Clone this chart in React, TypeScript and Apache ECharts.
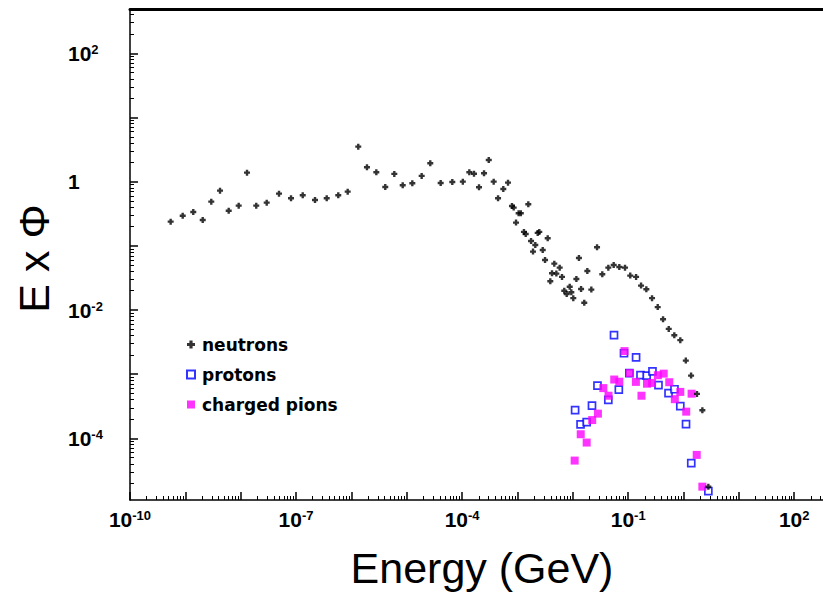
import React, { useEffect, useRef } from 'react';
import * as echarts from 'echarts';

// ---- Data (energy in GeV, E x Phi) ----
const neutronEnergy = [
  5.43e-10, 8.96e-10, 1.39e-9, 2.06e-9, 2.94e-9, 4.23e-9, 6.07e-9, 9.2e-9,
  1.3e-8, 1.91e-8, 2.95e-8, 4.92e-8, 8.11e-8, 1.32e-7, 2.2e-7, 3.58e-7,
  5.79e-7, 8.57e-7, 1.33e-6, 1.91e-6, 2.82e-6, 4.09e-6, 5.96e-6, 8.45e-6,
  1.26e-5, 1.86e-5, 2.66e-5, 4.1e-5, 6.65e-5, 1.03e-4, 1.35e-4, 1.64e-4,
  2.02e-4, 2.49e-4, 3.03e-4, 3.72e-4, 4.46e-4, 5.55e-4, 6.75e-4, 7.96e-4,
  8.55e-4, 9.42e-4, 1.05e-3, 1.15e-3, 1.31e-3, 1.41e-3, 1.57e-3, 1.76e-3,
  1.91e-3, 2.1e-3, 2.32e-3, 2.48e-3, 2.86e-3, 3.15e-3, 3.52e-3, 3.92e-3,
  4.21e-3, 4.63e-3, 5.04e-3, 5.79e-3, 6.38e-3, 7.01e-3, 7.76e-3, 8.79e-3,
  9.4e-3, 1.02e-2, 1.16e-2, 1.29e-2, 1.41e-2, 1.61e-2, 1.83e-2, 2.16e-2,
  2.74e-2, 3.41e-2, 4.38e-2, 5.48e-2, 6.92e-2, 8.77e-2, 0.109, 0.139,
  0.171, 0.213, 0.27, 0.342, 0.427, 0.541, 0.682, 0.875, 1.1, 1.37,
  1.75, 2.19, 2.81,
];
const neutronFlux = [
  0.238, 0.295, 0.337, 0.253, 0.488, 0.724, 0.353, 0.423,
  1.38, 0.423, 0.471, 0.65, 0.551, 0.614, 0.519, 0.551,
  0.614, 0.698, 3.51, 1.68, 1.4, 0.827, 1.32, 0.879,
  0.944, 1.23, 1.94, 0.954, 0.99, 1.0, 1.4, 1.33,
  0.818, 1.35, 2.18, 1.0, 0.551, 0.769, 0.965, 0.418,
  0.394, 0.23, 0.322, 0.322, 0.165, 0.153, 0.445, 0.119,
  0.0813, 0.103, 0.159, 0.165, 0.0863, 0.0603, 0.131, 0.0281,
  0.0374, 0.0528, 0.0369, 0.0457, 0.0328, 0.02, 0.0178, 0.0231,
  0.0189, 0.0153, 0.0305, 0.0648, 0.0213, 0.013, 0.0406, 0.0208,
  0.0951, 0.0361, 0.0457, 0.0504, 0.0469, 0.0457, 0.0344, 0.0328,
  0.024, 0.0211, 0.0153, 0.0111, 0.00719, 0.00508, 0.00405, 0.00339, 0.00163, 9.51e-4,
  4.93e-4, 2.75e-4, 1.76e-5,
];
const protonEnergy = [
  1.1e-2, 1.38e-2, 1.78e-2, 2.22e-2, 2.79e-2, 4.38e-2, 5.55e-2, 6.78e-2,
  8.41e-2, 0.105, 0.139, 0.167, 0.216, 0.275, 0.353, 0.536,
  0.687, 0.875, 1.11, 1.38, 2.81,
];
const protonFlux = [
  2.76e-4, 1.65e-4, 1.79e-4, 3.23e-4, 6.62e-4, 3.98e-4, 4.06e-3, 5.74e-4,
  2.12e-3, 1.04e-3, 1.83e-3, 9.64e-4, 9.51e-4, 1.11e-3, 6.75e-4, 5.06e-4,
  5.83e-4, 3.18e-4, 1.67e-4, 4.11e-5, 1.51e-5,
];
const pionEnergy = [
  1.08e-2, 1.39e-2, 1.78e-2, 2.24e-2, 2.84e-2, 3.56e-2, 4.42e-2, 5.6e-2,
  6.92e-2, 8.59e-2, 0.108, 0.138, 0.174, 0.219, 0.27, 0.344,
  0.439, 0.553, 0.697, 0.875, 1.12, 1.4, 1.73, 2.19,
];
const pionFlux = [
  4.51e-5, 1.16e-4, 8.61e-5, 1.93e-4, 2.43e-4, 6.07e-4, 4.62e-4, 8.26e-4,
  7.64e-4, 2.29e-3, 1.04e-3, 7.59e-4, 4.62e-4, 7.11e-4, 7.31e-4, 9.64e-4,
  1.02e-3, 7.5e-4, 4.08e-4, 5.3e-4, 2.61e-4, 4.97e-4, 5.53e-5, 1.77e-5,
];

// Axis extents (decades) and labelled decades
const xRangeDecades = [-10, 2.52];
const yRangeDecades = [-4.96, 2.69];
const xLabelDecades = [-10, -7, -4, -1, 2];
const yLabelDecades = [-4, -2, 0, 2];
const legendNames = ['neutrons', 'protons', 'charged pions'];

function majorTicks(lo: number, hi: number) {
  const out: number[] = [];
  for (let n = Math.ceil(lo); n <= Math.floor(hi); n++) out.push(n);
  return out;
}
function minorTicks(lo: number, hi: number) {
  const out: number[] = [];
  for (let n = Math.floor(lo); n <= Math.ceil(hi); n++) {
    for (let k = 2; k <= 9; k++) {
      const v = n + Math.log10(k);
      if (v >= lo && v <= hi) out.push(v);
    }
  }
  return out;
}
const toPoints = (xs: number[], ys: number[]) => xs.map((x, i) => [Math.log10(x), Math.log10(ys[i])]);

const FONT = '"Liberation Sans", Arial, Helvetica, sans-serif';
const labelRich = {
  b: { fontSize: 21, fontWeight: 'bold', fontFamily: FONT, color: '#000' },
  s: { fontSize: 13, fontWeight: 'bold', fontFamily: FONT, color: '#000', verticalAlign: 'top' },
};
const powLabel = (v: number) => {
  const e = Math.round(v);
  return e === 0 ? '{b|1}' : `{b|10}{s|${e}}`;
};

export default function App() {
  const ref = useRef<HTMLDivElement>(null);
  useEffect(() => {
    document.body.style.margin = '0';
    if (!ref.current) return;
    const chart = echarts.init(ref.current, null, { renderer: 'svg' });
    const [xMin, xMax] = xRangeDecades;
    const [yMin, yMax] = yRangeDecades;
    const axisLineStyle = { color: '#000', width: 1.5 };
    const plus = 'path://M1.8,0H4.2V1.8H6V4.2H4.2V6H1.8V4.2H0V1.8H1.8Z';
    chart.setOption({
      animation: false,
      backgroundColor: '#fff',
      grid: { left: 130, top: 9, right: 0, bottom: 98, containLabel: false },
      legend: {
        orient: 'vertical',
        left: 181,
        top: 331,
        itemWidth: 8,
        itemHeight: 8,
        itemGap: 13,
        data: legendNames,
        selectedMode: false,
        textStyle: { fontFamily: '"DejaVu Sans", sans-serif', fontWeight: 'bold', fontSize: 17, color: '#000', padding: [0, 0, 0, 2] },
      },
      xAxis: [
        {
          type: 'value', min: xMin, max: xMax, position: 'bottom',
          name: 'Energy (GeV)', nameLocation: 'middle', nameGap: 46,
          nameTextStyle: { fontFamily: FONT, fontSize: 43, color: '#000', padding: [0, 0, 0, 11] },
          axisLine: { show: true, onZero: false, lineStyle: axisLineStyle },
          axisTick: { show: true, inside: true, length: 8, customValues: majorTicks(xMin, xMax), lineStyle: axisLineStyle },
          axisLabel: { show: true, customValues: xLabelDecades, formatter: powLabel, rich: labelRich, margin: 9 },
          splitLine: { show: false },
        },
        {
          type: 'value', min: xMin, max: xMax, position: 'bottom', offset: 0,
          axisLine: { show: false, onZero: false },
          axisTick: { show: true, inside: true, length: 4, customValues: minorTicks(xMin, xMax), lineStyle: { color: '#000', width: 1 } },
          axisLabel: { show: false },
          splitLine: { show: false },
        },
        {
          type: 'value', min: xMin, max: xMax, position: 'top',
          axisLine: { show: true, onZero: false, lineStyle: { color: '#000', width: 3 } },
          axisTick: { show: false },
          axisLabel: { show: false },
          splitLine: { show: false },
        },
      ],
      yAxis: [
        {
          type: 'value', min: yMin, max: yMax, position: 'left',
          name: 'E x \u03A6', nameLocation: 'middle', nameGap: 75,
          nameTextStyle: { fontFamily: FONT, fontSize: 43, color: '#000', padding: [0, 8, 0, 0] },
          axisLine: { show: true, onZero: false, lineStyle: axisLineStyle },
          axisTick: { show: true, inside: true, length: 8, customValues: majorTicks(yMin, yMax), lineStyle: axisLineStyle },
          axisLabel: { show: true, customValues: yLabelDecades, formatter: powLabel, rich: labelRich, margin: 62, align: 'left' },
          splitLine: { show: false },
        },
        {
          type: 'value', min: yMin, max: yMax, position: 'left', offset: 0,
          axisLine: { show: false, onZero: false },
          axisTick: { show: true, inside: true, length: 4, customValues: minorTicks(yMin, yMax), lineStyle: { color: '#000', width: 1 } },
          axisLabel: { show: false },
          splitLine: { show: false },
        },
      ],
      series: [
        {
          type: 'scatter', name: 'neutrons', z: 4,
          data: toPoints(neutronEnergy, neutronFlux),
          symbol: plus, symbolSize: 6,
          itemStyle: { color: '#000' },
          emphasis: { disabled: true },
        },
        {
          type: 'scatter', name: 'protons', z: 2,
          data: toPoints(protonEnergy, protonFlux),
          symbol: 'rect', symbolSize: 7,
          itemStyle: { color: '#fff', borderColor: '#0000ff', borderWidth: 1.7 },
          emphasis: { disabled: true },
        },
        {
          type: 'scatter', name: 'charged pions', z: 3,
          data: toPoints(pionEnergy, pionFlux),
          symbol: 'rect', symbolSize: 8,
          itemStyle: { color: '#ff00ff' },
          emphasis: { disabled: true },
        },
      ],
    });
    return () => chart.dispose();
  }, []);
  return <div ref={ref} style={{ width: 823, height: 598 }} />;
}
